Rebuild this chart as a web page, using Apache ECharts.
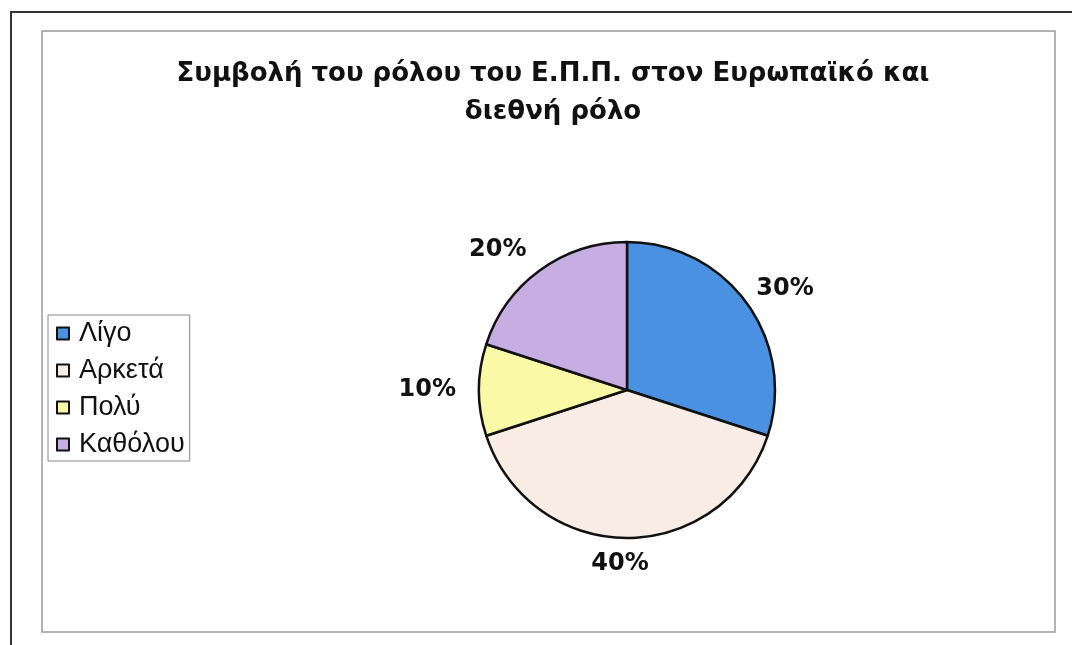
<!DOCTYPE html>
<html>
<head>
<meta charset="utf-8">
<script src="https://cdn.jsdelivr.net/npm/echarts@6/dist/echarts.min.js"></script>
<style>
html,body{margin:0;padding:0;background:#fff;}
#chart{width:1072px;height:645px;}
</style>
</head>
<body>
<div id="chart"></div>
<script>
const titleText = 'Συμβολή του ρόλου του Ε.Π.Π. στον Ευρωπαϊκό και\nδιεθνή ρόλο';
const categories = ['Λίγο', 'Αρκετά', 'Πολύ', 'Καθόλου'];
const values = [30, 40, 10, 20];
const colors = ['#4b91e2', '#f8ece4', '#fafaa6', '#c6aee2'];

const labelTweaks = [
  {dx: -10, dy: -4},
  {dx: -12, dy: 8, align: 'center'},
  {},
  {dx: 2, dy: -6}
];

const chart = echarts.init(document.getElementById('chart'), null, {renderer: 'canvas'});
chart.setOption({
  backgroundColor: '#ffffff',
  animation: false,
  graphic: [
    {type: 'polyline', shape: {points: [[11, 700], [11, 12], [1080, 12]]}, style: {stroke: '#333', lineWidth: 2, fill: null}},
    {type: 'rect', shape: {x: 42, y: 31, width: 1013, height: 601}, style: {stroke: '#9a9a9a', lineWidth: 1.5, fill: null}}
  ],
  title: {
    text: titleText,
    left: 548, textAlign: 'center',
    top: 50,
    textStyle: {fontFamily: 'DejaVu Sans', fontWeight: 'bold', fontSize: 26, lineHeight: 38, color: '#111'}
  },
  legend: {
    orient: 'vertical',
    left: 48, top: 315,
    backgroundColor: '#fff',
    borderColor: '#888', borderWidth: 1,
    padding: [5, 5, 3, 8],
    itemGap: 10,
    itemWidth: 12, itemHeight: 12,
    icon: 'rect',
    textStyle: {fontFamily: 'Liberation Sans', fontSize: 27, lineHeight: 26, color: '#111', padding: [0, 0, 0, 5]},
    data: categories
  },
  series: [{
    type: 'pie',
    center: [627, 390],
    radius: 148,
    startAngle: 90,
    clockwise: true,
    data: categories.map((c, i) => ({name: c, value: values[i], itemStyle: {color: colors[i]}})),
    itemStyle: {borderColor: '#111', borderWidth: 2.5},
    label: {
      show: true, position: 'outside',
      formatter: p => Math.round(p.percent) + '%',
      fontFamily: 'DejaVu Sans', fontWeight: 'bold', fontSize: 24, color: '#111'
    },
    labelLine: {show: false, length: 18, length2: 0},
    labelLayout: p => labelTweaks[p.dataIndex],
    emphasis: {disabled: true}
  }]
});
</script>
</body>
</html>
